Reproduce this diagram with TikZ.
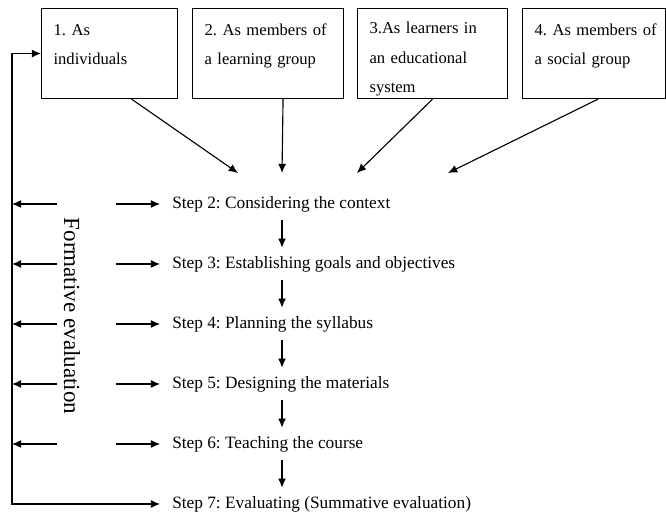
\documentclass[tikz,border=0pt]{standalone}
\usepackage{fontspec}
\setmainfont{Liberation Serif}
\usetikzlibrary{arrows.meta}
\frenchspacing

\tikzset{
  rolebox/.style={draw, line width=0.8pt, anchor=north west, align=left,
    font=\fontsize{11.8}{21}\selectfont,
    inner xsep=0.3cm, inner ysep=1pt, minimum height=2.25cm, text width=#1},
  stepnode/.style={anchor=west, inner xsep=0.3cm, minimum height=0.8cm},
  arr/.style={line width=0.8pt, ->},
}
\newcommand{\topline}{\rule{0pt}{16pt}}

\begin{document}
\begin{tikzpicture}[font=\fontsize{12.3}{21}\selectfont, >={Latex[length=2.3mm,width=2mm]}]
  \useasboundingbox (0,0) rectangle (16.65,12.9);

  \node[rolebox=2.8cm] (b1) at (1.025,12.7) {\topline\mbox{1. As}\\individuals\\~};
  \node[rolebox=3.175cm] (b2) at (4.8,12.7) {\topline\mbox{2. As members of}\\\mbox{a learning group}\\~};
  \node[rolebox=3.15cm] (b3) at (8.925,12.7) {\topline\mbox{3.As learners in}\\\mbox{an educational}\\system};
  \node[rolebox=2.975cm] (b4) at (13.05,12.7) {\topline\mbox{4. As members of}\\\mbox{a social group}\\~};

  \foreach \n/\y/\txt in {2/7.8/{Considering the context},
                          3/6.3/{Establishing goals and objectives},
                          4/4.8/{Planning the syllabus},
                          5/3.3/{Designing the materials},
                          6/1.8/{Teaching the course},
                          7/0.3/{Evaluating (Summative evaluation)}}
    \node[stepnode] (s\n) at (4.0,\y) {Step \n: \txt};

  \node[rotate=-90, font=\fontsize{16.4}{20}\selectfont] (fe) at (1.8,5.0) {Formative evaluation};

  \coordinate (t1) at (5.95,8.575);
  \coordinate (t2) at (7.05,8.575);
  \coordinate (t3) at (8.925,8.575);
  \coordinate (t4) at (11.2,8.575);
  \coordinate (dn) at (7.05,0);
  \coordinate (fl) at (0.3,0);
  \coordinate (fa) at (1.425,0);
  \coordinate (fr) at (2.9,0);

  \draw[arr] ([xshift=0.55cm]b1.south) -- (t1);
  \draw[arr] ([xshift=0.375cm]b2.south) -- (t2);
  \draw[arr] (b3.south) -- (t3);
  \draw[arr] ([xshift=0.1cm]b4.south) -- (t4);

  \foreach \a/\b in {2/3,3/4,4/5,5/6,6/7}
    \draw[arr] (s\a.south -| dn) -- (s\b.north -| dn);

  \foreach \n in {2,...,6} {
    \draw[arr] (s\n.west -| fa) -- (s\n.west -| fl);
    \draw[arr] (s\n.west -| fr) -- (s\n.west);
  }

  \draw[arr, <->] (b1.west) -| (fl |- s7.west) -- (s7.west);

\end{tikzpicture}
\end{document}
